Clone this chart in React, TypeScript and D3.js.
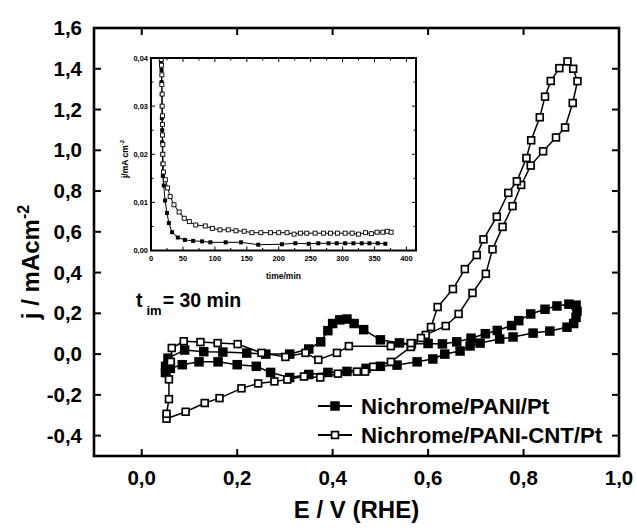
import * as d3 from "d3";

// main plot: cyclic voltammograms, E / V (RHE) vs j / mA cm-2
// Nichrome/PANI/Pt (filled squares), one closed cycle
const ptE = [
  0.05, 0.05, 0.055, 0.09, 0.13, 0.17, 0.22, 0.26, 0.31, 0.35,
  0.375, 0.39, 0.4, 0.415, 0.43, 0.445, 0.465, 0.5, 0.54, 0.565,
  0.6, 0.63, 0.66, 0.69, 0.72, 0.745, 0.775, 0.79, 0.815, 0.845,
  0.87, 0.895, 0.91, 0.912, 0.91,
  0.905, 0.891, 0.855, 0.82, 0.778, 0.75, 0.709, 0.688, 0.667, 0.635,
  0.61, 0.577, 0.535, 0.5, 0.47, 0.43, 0.39, 0.35, 0.31, 0.27,
  0.24, 0.2, 0.16, 0.12, 0.085, 0.06, 0.05,
];
const ptJ = [
  -0.09, -0.06, -0.02, 0.02, 0.012, 0.01, 0.005, 0.0, 0.0, 0.025,
  0.06, 0.115, 0.15, 0.168, 0.172, 0.15, 0.12, 0.07, 0.055, 0.05,
  0.052, 0.05, 0.06, 0.078, 0.1, 0.116, 0.14, 0.164, 0.197, 0.22,
  0.236, 0.245, 0.24, 0.21, 0.18,
  0.15, 0.132, 0.113, 0.103, 0.084, 0.074, 0.054, 0.04, 0.015, 0.0,
  -0.024, -0.038, -0.054, -0.06, -0.07, -0.085, -0.09, -0.1, -0.115, -0.09,
  -0.06, -0.052, -0.038, -0.038, -0.052, -0.07, -0.09,
];

// Nichrome/PANI-CNT/Pt (open squares)
const cntE = [
  0.052, 0.092, 0.132, 0.163, 0.209, 0.244, 0.278, 0.305, 0.34, 0.374,
  0.411, 0.451, 0.468, 0.485, 0.522, 0.564, 0.595, 0.637, 0.664, 0.693,
  0.721, 0.735, 0.756, 0.777, 0.795, 0.815, 0.841, 0.868, 0.887, 0.903,
  0.913, 0.904, 0.892, 0.875, 0.857, 0.845, 0.834, 0.816, 0.806, 0.786,
  0.768, 0.744, 0.716, 0.702, 0.677, 0.652, 0.62, 0.606, 0.585, 0.564,
  0.522, 0.434, 0.409, 0.37, 0.343, 0.301, 0.251, 0.201, 0.159, 0.123,
  0.088, 0.063, 0.061, 0.057, 0.057, 0.052,
];
const cntJ = [
  -0.317, -0.283, -0.24, -0.216, -0.168, -0.144, -0.134, -0.125, -0.11, -0.115,
  -0.096, -0.086, -0.086, -0.062, -0.038, 0.035, 0.094, 0.138, 0.197, 0.3,
  0.394, 0.514, 0.624, 0.726, 0.83, 0.925, 0.995, 1.063, 1.112, 1.232,
  1.339, 1.4, 1.436, 1.403, 1.34, 1.263, 1.162, 1.049, 0.962, 0.848,
  0.791, 0.674, 0.563, 0.486, 0.417, 0.319, 0.231, 0.133, 0.079, 0.054,
  0.039, 0.039, 0.006, -0.028, 0.006, -0.014, 0.006, 0.049, 0.054, 0.059,
  0.063, 0.03, -0.038, -0.124, -0.221, -0.293,
];

const xTicks = [0, 0.2, 0.4, 0.6, 0.8, 1.0];
const yTicks = [-0.4, -0.2, 0, 0.2, 0.4, 0.6, 0.8, 1.0, 1.2, 1.4, 1.6];
const legendLabels = ["Nichrome/PANI/Pt", "Nichrome/PANI-CNT/Pt"];

// inset: current transient at fixed potential, time/min vs j
const insPtT = [
  16, 16.5, 16.5, 17, 17, 17, 17.5, 17.5, 18, 18,
  18.5, 20, 22, 25, 28, 33, 42, 53, 66, 80,
  93, 117, 141, 168, 205, 226, 247, 262, 278, 291,
  304, 317, 330, 342, 355, 367,
];
const insPtJ = [
  0.039, 0.0375, 0.035, 0.0325, 0.03, 0.0275, 0.025, 0.0225, 0.02, 0.018,
  0.0155, 0.0135, 0.0104, 0.0078, 0.0057, 0.0038, 0.0027, 0.0022, 0.002, 0.0019,
  0.0017, 0.0017, 0.0017, 0.0012, 0.0013, 0.0015, 0.0014, 0.0015, 0.0015, 0.0015,
  0.0015, 0.0015, 0.0015, 0.0015, 0.0015, 0.0014,
];
const insCntT = [
  16, 16.5, 17, 17, 17.5, 17.5, 18, 18, 18, 18.5,
  18.5, 19, 19.5, 22.5, 26, 30, 36, 44, 52, 60,
  70, 85, 96, 108, 121, 133, 146, 158, 172, 187,
  200, 213, 224, 234, 244, 257, 270, 281, 292, 304,
  315, 325, 336, 345, 354, 363, 370, 376,
];
const insCntJ = [
  0.0397, 0.0385, 0.0365, 0.0345, 0.0325, 0.03, 0.028, 0.0262, 0.024, 0.022,
  0.02, 0.018, 0.0163, 0.0147, 0.013, 0.0112, 0.0095, 0.008, 0.0067, 0.006,
  0.0053, 0.0051, 0.0046, 0.0043, 0.0043, 0.0041, 0.004, 0.0037, 0.0037, 0.0037,
  0.0037, 0.0037, 0.0034, 0.0036, 0.0036, 0.0036, 0.0036, 0.0036, 0.0036, 0.0036,
  0.0036, 0.0034, 0.0037, 0.0035, 0.0038, 0.0038, 0.004, 0.0038,
];
const insXTicks = [0, 50, 100, 150, 200, 250, 300, 350, 400];
const insYTicks = [0, 0.01, 0.02, 0.03, 0.04];

const comma = (v: number, d: number) => v.toFixed(d).replace(".", ",");
const FONT = "'Liberation Sans', Arial, Helvetica, sans-serif";

export default function App() {
  const W = 637;
  const H = 531;

  // main axes
  const x = d3.scaleLinear().domain([-0.1, 1.0]).range([94, 619]);
  const y = d3.scaleLinear().domain([-0.5, 1.6]).range([456, 28]);
  const [x0, x1] = x.range();
  const [y0, y1] = y.range();
  const line = d3
    .line<[number, number]>()
    .x((d) => x(d[0]))
    .y((d) => y(d[1]));
  const ptPts = ptE.map((e, i) => [e, ptJ[i]] as [number, number]);
  const cntPts = cntE.map((e, i) => [e, cntJ[i]] as [number, number]);

  // inset axes
  const ix = d3.scaleLinear().domain([0, 415]).range([151, 416]);
  const iy = d3.scaleLinear().domain([0, 0.04]).range([250.5, 58]);
  const [ix0, ix1] = ix.range();
  const [iy0, iy1] = iy.range();
  const iline = d3
    .line<[number, number]>()
    .x((d) => ix(d[0]))
    .y((d) => iy(d[1]));
  const iPt = insPtT.map((t, i) => [t, insPtJ[i]] as [number, number]);
  const iCnt = insCntT.map((t, i) => [t, insCntJ[i]] as [number, number]);
  const iMinorX = d3.range(0, 415, 25);
  const iMinorY = d3.range(0, 0.0401, 0.005);

  const tk = 7; // main tick length
  const ms = 9.5; // filled marker size
  const os = 8.5; // open marker outer size
  const ims = 4; // inset marker size

  const openSq = (cx: number, cy: number, key: string) => (
    <rect
      key={key}
      x={cx - os / 2 + 0.85}
      y={cy - os / 2 + 0.85}
      width={os - 1.7}
      height={os - 1.7}
      fill="white"
      stroke="black"
      strokeWidth={1.7}
    />
  );

  return (
    <svg
      width={W}
      height={H}
      style={{ position: "absolute", left: 0, top: 0 }}
      fontFamily={FONT}
      fontWeight="bold"
    >
      <rect width={W} height={H} fill="white" />

      {/* main ticks, pointing inward on all sides */}
      {xTicks.map((t) => (
        <g key={"xt" + t} stroke="black" strokeWidth={2}>
          <line x1={x(t)} x2={x(t)} y1={y0} y2={y0 - tk} />
          <line x1={x(t)} x2={x(t)} y1={y1} y2={y1 + tk} />
        </g>
      ))}
      {yTicks.map((t) => (
        <g key={"yt" + t} stroke="black" strokeWidth={2}>
          <line x1={x0} x2={x0 + tk} y1={y(t)} y2={y(t)} />
          <line x1={x1} x2={x1 - tk} y1={y(t)} y2={y(t)} />
        </g>
      ))}
      {xTicks.map((t) => (
        <text key={"xl" + t} x={x(t)} y={y0 + 29} fontSize={20.5} textAnchor="middle">
          {comma(t, 1)}
        </text>
      ))}
      {yTicks.map((t) => (
        <text key={"yl" + t} x={x0 - 12} y={y(t) + 7} fontSize={20.5} textAnchor="end">
          {comma(t, 1)}
        </text>
      ))}

      {/* axis titles */}
      <text x={(x0 + x1) / 2} y={518} fontSize={24} textAnchor="middle">
        E / V (RHE)
      </text>
      <text transform="rotate(-90)" x={-262} y={39} fontSize={24} textAnchor="middle">
        j / mAcm
        <tspan fontSize={16} dy={-10}>
          -2
        </tspan>
      </text>

      {/* PANI/Pt - filled squares */}
      <path d={line(ptPts) ?? ""} fill="none" stroke="black" strokeWidth={1.5} />
      {ptPts.map((d, i) => (
        <rect
          key={"p" + i}
          x={x(d[0]) - ms / 2}
          y={y(d[1]) - ms / 2}
          width={ms}
          height={ms}
          fill="black"
        />
      ))}

      {/* PANI-CNT/Pt - open squares */}
      <path d={line(cntPts) ?? ""} fill="none" stroke="black" strokeWidth={1.5} />
      {cntPts.map((d, i) => openSq(x(d[0]), y(d[1]), "c" + i))}

      {/* main frame */}
      <rect x={x0} y={y1} width={x1 - x0} height={y0 - y1} fill="none" stroke="black" strokeWidth={2.6} />

      {/* t_im annotation */}
      <text x={136} y={307} fontSize={19.5}>
        t
        <tspan fontSize={13} dx={4} dy={8}>
          im
        </tspan>
        <tspan dx={1} dy={-8}>
          = 30 min
        </tspan>
      </text>

      {/* legend */}
      {legendLabels.map((lab, i) => {
        const ly = 406 + i * 29;
        return (
          <g key={lab}>
            <line x1={318} x2={352} y1={ly} y2={ly} stroke="black" strokeWidth={1.8} />
            {i === 0 ? (
              <rect x={335 - ms / 2} y={ly - ms / 2} width={ms} height={ms} fill="black" />
            ) : (
              openSq(335, ly, "lg")
            )}
            <text x={361} y={ly + 7.5} fontSize={22.2}>
              {lab}
            </text>
          </g>
        );
      })}

      {/* ---- inset ---- */}
      {iMinorX.map((t) => {
        const major = t % 50 === 0;
        const l = major ? 4 : 2.5;
        return (
          <g key={"ixt" + t} stroke="black" strokeWidth={1}>
            <line x1={ix(t)} x2={ix(t)} y1={iy0} y2={iy0 - l} />
            <line x1={ix(t)} x2={ix(t)} y1={iy1} y2={iy1 + l} />
          </g>
        );
      })}
      {iMinorY.map((t, i) => {
        const l = i % 2 === 0 ? 4 : 2.5;
        return (
          <g key={"iyt" + i} stroke="black" strokeWidth={1}>
            <line x1={ix0} x2={ix0 + l} y1={iy(t)} y2={iy(t)} />
            <line x1={ix1} x2={ix1 - l} y1={iy(t)} y2={iy(t)} />
          </g>
        );
      })}
      {insXTicks.map((t) => (
        <text key={"ixl" + t} x={ix(t)} y={iy0 + 10} fontSize={7.5} textAnchor="middle">
          {t}
        </text>
      ))}
      {insYTicks.map((t) => (
        <text key={"iyl" + t} x={ix0 - 3} y={iy(t) + 2.5} fontSize={7.5} textAnchor="end">
          {comma(t, 2)}
        </text>
      ))}
      <text x={(ix0 + ix1) / 2} y={279} fontSize={8.5} textAnchor="middle">
        time/min
      </text>
      <text transform="rotate(-90)" x={-159} y={128} fontSize={8.5} textAnchor="middle">
        j/mA cm
        <tspan fontSize={6} dy={-4}>
          -2
        </tspan>
      </text>

      <path d={iline(iPt) ?? ""} fill="none" stroke="black" strokeWidth={1} />
      {iPt.map((d, i) => (
        <rect
          key={"ip" + i}
          x={ix(d[0]) - ims / 2}
          y={iy(d[1]) - ims / 2}
          width={ims}
          height={ims}
          fill="black"
        />
      ))}
      <path d={iline(iCnt) ?? ""} fill="none" stroke="black" strokeWidth={1} />
      {iCnt.map((d, i) => (
        <rect
          key={"ic" + i}
          x={ix(d[0]) - ims / 2}
          y={iy(d[1]) - ims / 2}
          width={ims}
          height={ims}
          fill="white"
          stroke="black"
          strokeWidth={0.9}
        />
      ))}
      <rect x={ix0} y={iy1} width={ix1 - ix0} height={iy0 - iy1} fill="none" stroke="black" strokeWidth={2} />
    </svg>
  );
}
